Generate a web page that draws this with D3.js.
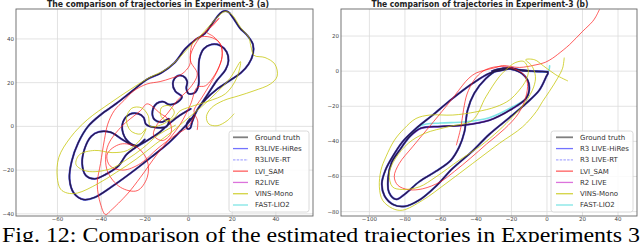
<!DOCTYPE html>
<html lang="en">
<head>
  <meta charset="UTF-8">
  <title>Trajectories in Experiment-3</title>
  <style>
    body { margin: 0; background: #fff; }
    svg { display: block; }
    .tick-label { font-family: 'DejaVu Sans', sans-serif; font-size: 5.5px; fill: #444; }
    .title { font-family: 'DejaVu Sans', sans-serif; font-weight: bold; font-size: 8px; fill: #222; }
    .legend-text { font-family: 'DejaVu Sans', sans-serif; font-size: 7px; fill: #333; }
    .caption { font-family: 'Liberation Serif', 'Times New Roman', serif; font-size: 21.5px; fill: #000; }
  </style>
</head>
<body>
  <svg id="svg" width="640" height="242"></svg>
  <script src="https://d3js.org/d3.v7.min.js"></script>
  <script>
    // legend labels (the right panel renders them with a gap after "R3"/"R2")
    const namesA = ['Ground truth', 'R3LIVE-HiRes', 'R3LIVE-RT', 'LVI_SAM', 'R2LIVE', 'VINS-Mono', 'FAST-LIO2']
    const namesB = ['Ground truth', 'R3 LIVE-HiRes', 'R3 LIVE-RT', 'LVI_SAM', 'R2 LIVE', 'VINS-Mono', 'FAST-LIO2']

    const xTicksA = [-60, -40, -20, 0, 20, 40]
    const yTicksA = [-40, -20, 0, 20, 40]
    const xTicksB = [-100, -80, -60, -40, -20, 0, 20, 40]
    const yTicksB = [-80, -60, -40, -20, 0, 20]

    // ---- panel (a) trajectories, [x, y] in metres
    const gtA = [[0.8,3.5],[-0.8,1.2],[-0.6,-1],[0.8,-0.8],[1.6,1.8],[4,7.5],[8,12.5],[13,17],[19,21],[24,24.5],
      [27.5,28.5],[29.5,33],[29.5,37.5],[27,41.5],[23.5,45],[20.5,49.5],[18,52.5],[15.5,52.5],[13,50],[10.5,46.5],
      [7.5,42.5],[3,39.5],[-1.5,35.5],[-6.5,29],[-12.5,24.5],[-19,21.5],[-26,16],[-33,10.5],[-40,5.5],[-46,0],
      [-50.5,-7.5],[-53.5,-16],[-54.5,-24],[-52.5,-30.5],[-48,-33.5],[-43,-32.5],[-35,-27.5],[-26,-21],[-17,-14],[-9,-7.5],
      [-3.5,-2],[1,3],[5,9],[9,15],[13,21],[17,26],[18.3,30],[17.5,34],[14.5,37],[10.5,37.5],
      [7,35.5],[5,31],[4.6,25],[4.6,19],[3,15.5],[0,15],[-1,17.5],[-0.6,20.5],[-2.5,23],[-5.5,22.8],
      [-7.2,19.5],[-6,16],[-3,13.5],[-6,10.5],[-9,10],[-11.5,11.3],[-14.5,10.5],[-16.5,7],[-15.5,3],[-12,2],
      [-9,3.5],[-10,0],[-15,-0.5],[-19.5,1],[-20.5,4],[-23,5.8],[-27,5.5],[-30,2],[-30,-3],[-27,-7.5],
      [-23.5,-8.8],[-20,-6],[-24,-9],[-29.5,-6.5],[-35.7,-2.7],[-41,-2.5],[-44.5,-4.5],[-47.5,-10],[-48.7,-17],[-47,-22.5],
      [-43,-24],[-38,-22],[-32,-18],[-28.5,-13],[-24,-9.5],[-19,-6.5],[-13,-2.5],[-8.2,1.8],[-4,5],[1,8]]

    const lviA = [[4,-1.5],[4.2,2.5],[2.5,7],[6,13],[10,19.5],[13.5,26],[15.4,32],[14.6,37.5],[11.5,41],[8,43.5],
      [11,46],[14,49.5],[12.5,48],[9,44.5],[4,39],[1,33],[0.5,28],[-3,24],[-8,22],[-13,20.5],
      [-19,19.4],[-25,16.3],[-29.6,11.8],[-34,7.2],[-37,1],[-38.5,-6],[-40.3,-17],[-41.8,-26.4],[-40.3,-35.5],[-38,-40.4],
      [-35.7,-38.6],[-28,-30.9],[-22,-23.3],[-14.3,-12.6],[-8.2,-5],[-3.7,1.1],[0.9,10],[4,17.9],[7.8,18.6],[13.1,25.5],
      [15.4,32.4],[14.6,37.7],[11,40.5],[6,41],[2.4,39.2],[0.9,30.1],[4,24],[0.9,17.9],[-5.2,11.8],[-9.8,5.7],
      [-14.3,1],[-16,-4],[-12,-6.5],[-8,-3],[-9,3],[-13,6],[-18.9,10.3],[-22,7.2],[-31.1,-0.5],[-37.2,-9.6],
      [-37.2,-20.3],[-31.1,-27.9],[-23.5,-29.4],[-18.9,-23.3],[-18.9,-15.7],[-23.5,-9.6],[-31.1,-8.1],[-37.2,-12.6],[-36,-18],[-30,-20],
      [-22,-17],[-14,-10],[-6,-4],[0,0],[2.5,4.5]]

    const vinsA = [[20.8,5.7],[17.7,2.6],[13.1,0.3],[9.3,1.1],[8.2,4.5],[10.5,8.5],[16,11.8],[23,14],[30,16.3],[37.5,19.4],
      [40.6,23],[39.5,28.5],[35,31.5],[30,32.5],[28.5,37],[27.6,40.7],[23.8,45.3],[19.8,51.2],[16.8,52.5],[13.8,50.5],
      [10,46.5],[5,41],[0,36],[-5,30.5],[-10.5,26],[-18,22.3],[-26.5,17],[-35.7,10.8],[-46.4,3],[-54,-5],
      [-59.4,-14.2],[-60.1,-23.3],[-58.6,-28.7],[-55.5,-30.5],[-50.9,-30.5],[-41.8,-26.4],[-33,-21],[-24,-15],[-15,-8],[-7,-2],
      [0,4],[6,9],[13.1,15.7],[19,22],[23.8,29.6],[22,22],[17,15],[9,11.5],[1,9],[-4,7],
      [-6.5,4],[-9.5,2.5],[-12.5,4.5],[-12.5,8.5],[-9,9.5],[-6.5,6.5],[-10,2],[-17.4,0],[-18.5,5],[-21.5,8.5],
      [-26,8.3],[-28.5,3.5],[-26.5,-2],[-22,-3.5],[-19.5,-1],[-22,-6],[-28,-11],[-35,-12],[-43,-11],[-50,-13],
      [-51.5,-17.5],[-46.5,-20.5],[-36,-19.5],[-28,-15],[-21,-10],[-14,-4],[-6,0.5]]

    // the LiDAR-based estimates sit on top of the ground truth in (a)
    const hiResA = gtA
    const rtA = gtA
    const r2liveA = gtA
    const fastLioA = gtA

    // ---- panel (b)
    const gtB = [[0.5,-0.3],[-6,0],[-13.7,0.2],[-19,1.5],[-23,1],[-32.5,-1.3],[-41.9,-7],[-53.2,-15.6],[-64.5,-25.1],[-73.8,-32.7],
      [-81.4,-40.3],[-87,-48.8],[-91,-56.4],[-93,-64],[-91.5,-71],[-86.5,-76],[-80,-77],[-72,-73.5],[-62.5,-65.5],[-53.2,-55.5],
      [-41.9,-45.5],[-32.5,-36],[-21.2,-26.5],[-11.8,-18.4],[-4.3,-10.8],[-0.6,-3.5],[0.5,-0.8],[-6,-0.2],[-15.6,0.8],[-22,2],
      [-27,1],[-34.4,-4.2],[-41,-12.7],[-44.7,-22.2],[-46.5,-34.6],[-49.4,-43.1],[-54.1,-50.7],[-62.5,-57],[-72,-63],[-80,-70],
      [-85,-73],[-89,-69],[-89.5,-61],[-87.5,-52],[-83,-45],[-77,-37],[-71,-32.5],[-60,-31.5],[-47.5,-30.8],[-32.5,-28],
      [-19.4,-21.3],[-11.8,-15.6],[-10,-10.8],[-10.9,-5.1],[-15.6,-0.4],[-25,1.5],[-31,0]]

    const fastLioB = [[1.5,3],[0.5,-0.3],[-6,0],[-13.7,0.2],[-19,1.5],[-23,1],[-32.5,-1.3],[-41.9,-7],[-53.2,-15.6],[-64.5,-25.1],[-73.8,-32.7],
      [-81.4,-40.3],[-87,-48.8],[-91,-56.4],[-93,-64],[-91.5,-71],[-86.5,-76],[-80,-77],[-72,-73.5],[-62.5,-65.5],[-53.2,-55.5],
      [-41.9,-45.5],[-32.5,-36],[-21.2,-26.5],[-11.8,-18.4],[-4.3,-10.8],[-0.6,-3.5],[0.5,-0.8],[-6,-0.2],[-15.6,0.8],[-22,2],
      [-27,1],[-34.4,-4.2],[-41,-12.7],[-44.7,-22.2],[-46.5,-34.6],[-49.4,-43.1],[-54.1,-50.7],[-62.5,-57],[-72,-63],[-80,-70],
      [-85,-73],[-89,-69],[-89.5,-61],[-87.5,-52],[-83,-45],[-77,-37],[-71,-31],[-60,-29.5],[-47.5,-29],[-32.5,-26.5],
      [-19.4,-20.3],[-11.8,-15.6],[-10,-10.8],[-10.9,-5.1],[-15.6,-0.4],[-25,1.5],[-31,0]]

    const lviB = [[29.5,35],[27.5,31],[25.7,28.3],[20,22.6],[12.6,15],[6,9.5],[3.2,7.4],[-1,5],[-6.2,3.6],[-15.6,2.1],
      [-25,3.2],[-28.7,2.1],[-34.4,0.7],[-40,-1.1],[-44,-4],[-47.5,-8],[-52,-14],[-57,-20.3],[-66.3,-31.7],[-75.7,-43.1],
      [-83.2,-52.6],[-86,-60],[-84,-65],[-78,-67.5],[-70,-67],[-60,-63],[-52,-57],[-43,-49.5],[-34,-41.5],[-24,-33],
      [-16,-24],[-12,-15],[-11,-7],[-13,-2],[-18,1.2],[-24,2.5],[-30,2.3],[-36,0],[-41,-5],[-45,-13],
      [-47,-22],[-48.5,-32],[-51,-42]]

    const vinsB = [[9.7,7.5],[8.8,1.7],[6,-4],[1.3,-11.6],[-2.5,-17.3],[-6,-23],[-13.7,-31.7],[-26.9,-41.2],[-41.9,-52.6],[-56.9,-64],
      [-70,-73.5],[-81.4,-79.2],[-87,-78.2],[-92.6,-73.5],[-94.4,-65.9],[-93.5,-56.4],[-90.7,-48.8],[-85.9,-39.3],[-80.4,-32.7],[-73.8,-27],
      [-66,-25],[-53,-25],[-40,-23.2],[-28.7,-20.3],[-21.2,-16.5],[-15.6,-10.8],[-11.8,-5.1],[-10.5,0.6],[-13,5.5],[-17.5,5],
      [-21.2,2.5],[-26.9,-3.2],[-34.4,-14.6],[-41.9,-27.9],[-55,-31.5],[-69,-35.5],[-78,-41],[-85.5,-50],[-88.8,-58.3],[-87,-65.9],
      [-81.4,-67.4],[-71.9,-65.9],[-62.5,-60.2],[-49.4,-50.7],[-38.1,-43.1],[-26.9,-33.6],[-19.4,-26],[-12,-17.5],[-7.5,-9],[-6.5,-3],
      [-8.5,3],[-12,6.5],[-7,6.5],[-2,3],[5,-2.1],[11.6,-5.5]]

    const hiResB = gtB
    const rtB = gtB
    const r2liveB = gtB

    // line styles, one per legend entry
    const styles = [
      { color: '#000000', width: 1.4, opacity: 0.65 },
      { color: '#0000ff', width: 2.1, opacity: 0.55 },
      { color: '#5555ff', width: 1.1, opacity: 0.5, dash: '2.5,1.2' },
      { color: '#ff1a1a', width: 1.0, opacity: 0.7 },
      { color: '#c000c0', width: 1.5, opacity: 0.55 },
      { color: '#c4c400', width: 1.0, opacity: 0.75 },
      { color: '#00cccc', width: 1.6, opacity: 0.5 },
    ]
    // draw order: wide estimators underneath, ground truth in the middle, drifting ones on top
    const drawOrder = [1, 6, 4, 2, 0, 3, 5]

    const panels = [
      {
        id: 'a', title: 'The comparison of trajectories in Experiment-3 (a)', titleX: 158, titleW: 222,
        names: namesA, series: [gtA, hiResA, rtA, lviA, r2liveA, vinsA, fastLioA],
        xDomain: [-79, 57], yDomain: [-41, 53.7], x0: 16, x1: 313, y0: 9, y1: 216,
        xTicks: xTicksA, yTicks: yTicksA,
        legend: { x: 229, w: 80, lineX: 233, lineW: 15, textX: 255 },
      },
      {
        id: 'b', title: 'The comparison of trajectories in Experiment-3 (b)', titleX: 480, titleW: 217,
        names: namesB, series: [gtB, hiResB, rtB, lviB, r2liveB, vinsB, fastLioB],
        xDomain: [-116, 50.7], yDomain: [-82.5, 35.4], x0: 341, x1: 637, y0: 9, y1: 216,
        xTicks: xTicksB, yTicks: yTicksB,
        legend: { x: 551, w: 82, lineX: 556, lineW: 17, textX: 580 },
      },
    ]

    const svg = d3.select('#svg')
    const fmt = d => (d < 0 ? '\u2212' + Math.abs(d) : String(d))

    panels.forEach(p => {
      const x = d3.scaleLinear().domain(p.xDomain).range([p.x0, p.x1])
      const y = d3.scaleLinear().domain(p.yDomain).range([p.y1, p.y0])
      const g = svg.append('g')

      g.append('clipPath').attr('id', 'clip-' + p.id)
        .append('rect')
        .attr('x', p.x0).attr('y', p.y0)
        .attr('width', p.x1 - p.x0).attr('height', p.y1 - p.y0)

      // grid
      g.append('g').selectAll('line').data(p.xTicks).join('line')
        .attr('x1', d => x(d)).attr('x2', d => x(d))
        .attr('y1', p.y0).attr('y2', p.y1)
        .attr('stroke', '#dcdcdc').attr('stroke-width', 0.8)
      g.append('g').selectAll('line').data(p.yTicks).join('line')
        .attr('y1', d => y(d)).attr('y2', d => y(d))
        .attr('x1', p.x0).attr('x2', p.x1)
        .attr('stroke', '#dcdcdc').attr('stroke-width', 0.8)

      // tick labels
      g.append('g').selectAll('text').data(p.xTicks).join('text')
        .attr('class', 'tick-label')
        .attr('x', d => x(d)).attr('y', p.y1 + 5)
        .attr('text-anchor', 'middle')
        .text(fmt)
      g.append('g').selectAll('text').data(p.yTicks).join('text')
        .attr('class', 'tick-label')
        .attr('x', p.x0 - 2).attr('y', d => y(d) + 2)
        .attr('text-anchor', 'end')
        .text(fmt)

      // trajectories
      const line = d3.line().x(d => x(d[0])).y(d => y(d[1])).curve(d3.curveCatmullRom.alpha(0.5))
      const lines = g.append('g').attr('clip-path', `url(#clip-${p.id})`)
      drawOrder.forEach(i => {
        const s = styles[i]
        lines.append('path')
          .datum(p.series[i])
          .attr('d', line)
          .attr('fill', 'none')
          .attr('stroke', s.color)
          .attr('stroke-width', s.width)
          .attr('stroke-opacity', s.opacity)
          .attr('stroke-dasharray', s.dash || null)
          .attr('stroke-linejoin', 'round')
          .attr('stroke-linecap', 'round')
      })

      // frame
      g.append('rect')
        .attr('x', p.x0).attr('y', p.y0)
        .attr('width', p.x1 - p.x0).attr('height', p.y1 - p.y0)
        .attr('fill', 'none').attr('stroke', '#666').attr('stroke-width', 0.9)

      // title
      g.append('text').attr('class', 'title')
        .attr('x', p.titleX).attr('y', 6.5)
        .attr('text-anchor', 'middle')
        .attr('textLength', p.titleW).attr('lengthAdjust', 'spacingAndGlyphs')
        .text(p.title)

      // legend
      const L = p.legend
      const rowY = d3.scalePoint().domain(d3.range(p.names.length)).range([137.3, 205])
      g.append('rect')
        .attr('x', L.x).attr('y', 131).attr('width', L.w).attr('height', 81)
        .attr('rx', 2.5)
        .attr('fill', '#fff').attr('fill-opacity', 0.85)
        .attr('stroke', '#d0d0d0').attr('stroke-width', 0.8)
      const item = g.append('g').selectAll('g').data(p.names).join('g')
        .attr('transform', (d, i) => `translate(0, ${rowY(i)})`)
      item.append('line')
        .attr('x1', L.lineX).attr('x2', L.lineX + L.lineW)
        .attr('stroke', (d, i) => styles[i].color)
        .attr('stroke-opacity', (d, i) => (i === 0 ? 0.5 : styles[i].opacity))
        .attr('stroke-width', (d, i) => (i === 0 ? 1.8 : 1.3))
        .attr('stroke-dasharray', (d, i) => styles[i].dash || null)
      item.append('text').attr('class', 'legend-text')
        .attr('x', L.textX).attr('y', 2.4)
        .text(d => d)
    })

    // caption of the figure, cut by the bottom edge
    svg.append('text').attr('class', 'caption')
      .attr('x', 2).attr('y', 241.5)
      .attr('textLength', 638).attr('lengthAdjust', 'spacingAndGlyphs')
      .text('Fig. 12: Comparison of the estimated trajectories in Experiments 3')
  </script>
</body>
</html>
